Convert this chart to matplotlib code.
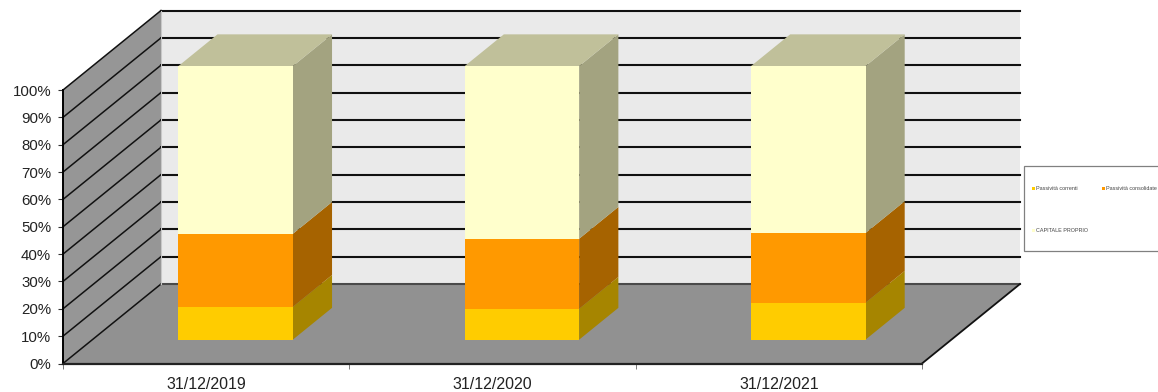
import matplotlib
matplotlib.use("Agg")
from matplotlib import pyplot as plt
from matplotlib.patches import Rectangle

plt.rcParams['font.family'] = ['Liberation Sans', 'DejaVu Sans']

dates = ["31/12/2019", "31/12/2020", "31/12/2021"]
correnti = [12.0, 11.3, 13.5]
consolidate = [26.7, 25.6, 25.5]
capitale = [61.3, 63.1, 61.0]
percent_ticks = list(range(0, 101, 10))

series = [
    ("Passività correnti", correnti, "#FFCC00", "#A68500", "#BFBF00"),
    ("Passività consolidate", consolidate, "#FF9900", "#A66300", "#BF7300"),
    ("CAPITALE PROPRIO", capitale, "#FFFFCC", "#A3A380", "#C0C09A"),
]

W, H = 1158, 392
# depth of the 3D box, in data units
DX = 98 / (859 / 3)
DY = 79.5 / 2.735


def proj(x, y, d):
    return x + d * DX, y + d * DY


def quad(ax, pts, color, z):
    xs, ys = zip(*pts)
    ax.fill(xs, ys, color=color, lw=0, clip_on=False, zorder=z)


fig = plt.figure(figsize=(W / 100, H / 100), dpi=100)
ax = fig.add_axes([63 / W, (H - 363.5) / H, 859 / W, 273.5 / H])
ax.set_xlim(0, 3)
ax.set_ylim(0, 100)
ax.patch.set_visible(False)

# walls and floor
quad(ax, [proj(0, 0, 1), proj(3, 0, 1), proj(3, 100, 1), proj(0, 100, 1)], "#EAEAEA", 1)
quad(ax, [proj(0, 0, 0), proj(0, 0, 1), proj(0, 100, 1), proj(0, 100, 0)], "#969696", 1)
quad(ax, [proj(0, 0, 0), proj(3, 0, 0), proj(3, 0, 1), proj(0, 0, 1)], "#919191", 1)

for p in percent_ticks:
    x0, y0 = proj(0, p, 0)
    x1, y1 = proj(0, p, 1)
    x2, y2 = proj(3, p, 1)
    ax.plot([x0, x1], [y0, y1], color="#111111", lw=1.1, clip_on=False, zorder=2)
    if p == 0:
        ax.plot([x1, x2], [y1, y2], color="#4A4A4A", lw=1.5, clip_on=False, zorder=2)
    else:
        ax.plot([x1, x2], [y1, y2], color="#111111", lw=1.5, clip_on=False, zorder=2)

# right edge of the floor
ax.plot(*zip(proj(3, 0, 0), proj(3, 0, 1)), color="#111111", lw=1.3, clip_on=False, zorder=2)
# light edge where the side wall meets the back wall
ax.plot(*zip(proj(0, 0, 1), proj(0, 100, 1)), color="#C8C8C8", lw=0.8, clip_on=False, zorder=2)

# stacked boxes
for i in range(len(dates)):
    left = i + 0.3
    right = i + 0.7
    base = 0
    for name, values, front, side, top in series:
        v = values[i]
        quad(ax, [proj(right, base, 0.3), proj(right, base, 0.7),
                  proj(right, base + v, 0.7), proj(right, base + v, 0.3)], side, 3)
        quad(ax, [proj(left, base, 0.3), proj(right, base, 0.3),
                  proj(right, base + v, 0.3), proj(left, base + v, 0.3)], front, 4)
        base += v
    quad(ax, [proj(left, base, 0.3), proj(right, base, 0.3),
              proj(right, base, 0.7), proj(left, base, 0.7)], series[-1][4], 3)

# axes
for s in ("top", "right"):
    ax.spines[s].set_visible(False)
ax.spines["left"].set_linewidth(1.4)
ax.spines["bottom"].set_linewidth(1.6)
ax.spines["bottom"].set_color("#222222")
ax.spines["left"].set_zorder(6)
ax.spines["bottom"].set_zorder(6)
ax.set_yticks(percent_ticks)
ax.set_yticklabels([f"{p}%" for p in percent_ticks], fontsize=10.8, color="#222222")
ax.tick_params(axis="y", length=3.5, width=0.8, pad=5, color="#333333")
ax.set_xticks([0, 1, 2, 3])
ax.set_xticklabels([])
ax.tick_params(axis="x", which="major", length=3.5, width=0.6, color="#666666")
ax.set_xticks([0.5, 1.5, 2.5], minor=True)
ax.set_xticklabels(dates, minor=True, fontsize=11.5, color="#222222")
ax.tick_params(axis="x", which="minor", length=0, pad=10)

# legend box, cut off by the right edge of the figure
fig.add_artist(Rectangle((1024 / W, (H - 251) / H), 140 / W, 85 / H, transform=fig.transFigure,
                         facecolor="white", edgecolor="#808080", lw=0.9))
legend_pos = [(1036, 188), (1106, 188), (1036, 230)]
for (name, values, front, side, top), (lx, ly) in zip(series, legend_pos):
    fig.add_artist(Rectangle(((lx - 4) / W, (H - ly - 1.5) / H), 3 / W, 3 / H, transform=fig.transFigure,
                             facecolor=front, edgecolor="none"))
    fig.text(lx / W, (H - ly) / H, name, fontsize=3.9, color="#444444", va="center", ha="left")

fig.savefig("out.png", dpi=100)
